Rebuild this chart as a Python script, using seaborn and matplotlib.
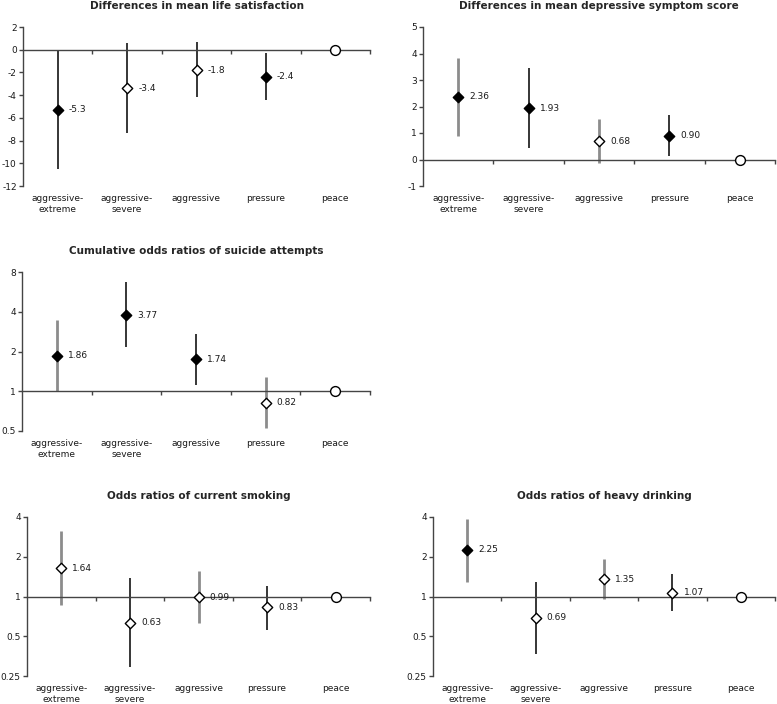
import numpy as np
import seaborn as sns
import matplotlib.pyplot as plt
import matplotlib.transforms as mtransforms

# categories shared by all panels
groups = ['aggressive-\nextreme', 'aggressive-\nsevere', 'aggressive', 'pressure', 'peace']

# panel 1: life satisfaction
life_est = [-5.3, -3.4, -1.8, -2.4, 0]
life_lo = [-10.5, -7.3, -4.2, -4.4, 0]
life_hi = [-0.1, 0.6, 0.7, -0.25, 0]
life_labels = ['-5.3', '-3.4', '-1.8', '-2.4']
life_sig = [True, False, False, True]

# panel 2: depressive symptoms
dep_est = [2.36, 1.93, 0.68, 0.90, 0]
dep_lo = [0.88, 0.43, -0.15, 0.14, 0]
dep_hi = [3.84, 3.45, 1.52, 1.67, 0]
dep_labels = ['2.36', '1.93', '0.68', '0.90']
dep_sig = [True, True, False, True]

# panel 3: suicide attempts
sui_est = [1.86, 3.77, 1.74, 0.82, 1]
sui_lo = [1.01, 2.17, 1.12, 0.53, 1]
sui_hi = [3.46, 6.7, 2.72, 1.29, 1]
sui_labels = ['1.86', '3.77', '1.74', '0.82']
sui_sig = [True, True, True, False]

# panel 4: smoking
smk_est = [1.64, 0.63, 0.99, 0.83, 1]
smk_lo = [0.865, 0.29, 0.63, 0.56, 1]
smk_hi = [3.13, 1.37, 1.56, 1.21, 1]
smk_labels = ['1.64', '0.63', '0.99', '0.83']
smk_sig = [False, False, False, False]

# panel 5: heavy drinking
drk_est = [2.25, 0.69, 1.35, 1.07, 1]
drk_lo = [1.29, 0.37, 0.95, 0.78, 1]
drk_hi = [3.89, 1.28, 1.91, 1.47, 1]
drk_labels = ['2.25', '0.69', '1.35', '1.07']
drk_sig = [True, False, False, False]

DARK = '#262626'
GRAY = '#8c8c8c'
FS = 6.5

sns.set_style('white')
plt.rcParams['font.family'] = ['DejaVu Sans']


def draw_panel(ax, title, est, lo, hi, labels, sig, line_colors, ref, log, yticks, ylim):
    x = np.arange(len(groups))
    if log:
        ax.set_yscale('log', base=2)

    # confidence intervals
    for i in range(4):
        ax.vlines(x[i], lo[i], hi[i], color=line_colors[i],
                  lw=2.0 if line_colors[i] == GRAY else 1.3, zorder=2)

    # point estimates: filled = significant, open = not
    for i in range(4):
        face = 'black' if sig[i] else 'white'
        sns.scatterplot(x=[x[i]], y=[est[i]], marker='D', s=28, color=face,
                        edgecolor='black', linewidth=1.0, ax=ax, zorder=4)
        ax.annotate(labels[i], (x[i], est[i]), xytext=(8, 0), textcoords='offset points',
                    va='center', ha='left', fontsize=FS, color='#1a1a1a')
    # reference group
    sns.scatterplot(x=[x[4]], y=[est[4]], marker='o', s=50, color='white',
                    edgecolor='black', linewidth=1.0, ax=ax, zorder=4)

    ax.set_xlim(-0.5, 4.5)
    ax.set_ylim(*ylim)
    ax.set_yticks(yticks)
    ax.set_yticklabels([f'{t:g}' for t in yticks])
    ax.yaxis.set_minor_locator(plt.NullLocator())

    # reference line acts as x axis with ticks between categories
    ax.spines['top'].set_visible(False)
    ax.spines['right'].set_visible(False)
    ax.spines['bottom'].set_position(('data', ref))
    for sp in ['left', 'bottom']:
        ax.spines[sp].set_color('#444444')
        ax.spines[sp].set_linewidth(1.0)
    ax.set_xticks(np.arange(0.5, 5, 1.0))
    ax.set_xticklabels([])
    ax.tick_params(axis='x', bottom=True, direction='out', length=3, width=1, color='#444444')
    ax.tick_params(axis='y', left=True, direction='out', length=3, width=1, color='#444444',
                   labelsize=FS, pad=1.5, labelcolor='#1a1a1a')
    ax.set_xlabel('')
    ax.set_ylabel('')

    # category labels sit under the plot area, not on the reference line
    trans = mtransforms.blended_transform_factory(ax.transData, ax.transAxes)
    for i, g in enumerate(groups):
        ax.text(x[i], -0.05, g, transform=trans, ha='center', va='top',
                fontsize=FS, color='#1a1a1a', linespacing=1.25)
    ax.set_title(title, fontsize=7.5, fontweight='bold', pad=13)


fig = plt.figure(figsize=(7.77, 7.04), dpi=100)
W, H = 777, 704


def box(left, top, right, bottom):
    return [left / W, 1 - bottom / H, (right - left) / W, (bottom - top) / H]


ax1 = fig.add_axes(box(23, 27, 370, 186))
draw_panel(ax1, 'Differences in mean life satisfaction', life_est, life_lo, life_hi,
           life_labels, life_sig, [DARK, DARK, DARK, DARK], 0, False,
           list(range(-12, 3, 2)), (-12, 2))

ax2 = fig.add_axes(box(423, 27, 775, 186))
draw_panel(ax2, 'Differences in mean depressive symptom score', dep_est, dep_lo, dep_hi,
           dep_labels, dep_sig, [GRAY, DARK, GRAY, DARK], 0, False,
           list(range(-1, 6)), (-1, 5))

ax3 = fig.add_axes(box(22, 272, 370, 431))
draw_panel(ax3, 'Cumulative odds ratios of suicide attempts', sui_est, sui_lo, sui_hi,
           sui_labels, sui_sig, [GRAY, DARK, DARK, GRAY], 1, True,
           [0.5, 1, 2, 4, 8], (0.5, 8))

ax4 = fig.add_axes(box(27, 517, 370, 676))
draw_panel(ax4, 'Odds ratios of current smoking', smk_est, smk_lo, smk_hi,
           smk_labels, smk_sig, [GRAY, DARK, GRAY, DARK], 1, True,
           [0.25, 0.5, 1, 2, 4], (0.25, 4))

ax5 = fig.add_axes(box(433, 517, 775, 676))
draw_panel(ax5, 'Odds ratios of heavy drinking', drk_est, drk_lo, drk_hi,
           drk_labels, drk_sig, [GRAY, DARK, GRAY, DARK], 1, True,
           [0.25, 0.5, 1, 2, 4], (0.25, 4))

fig.savefig('out.png', dpi=100)
